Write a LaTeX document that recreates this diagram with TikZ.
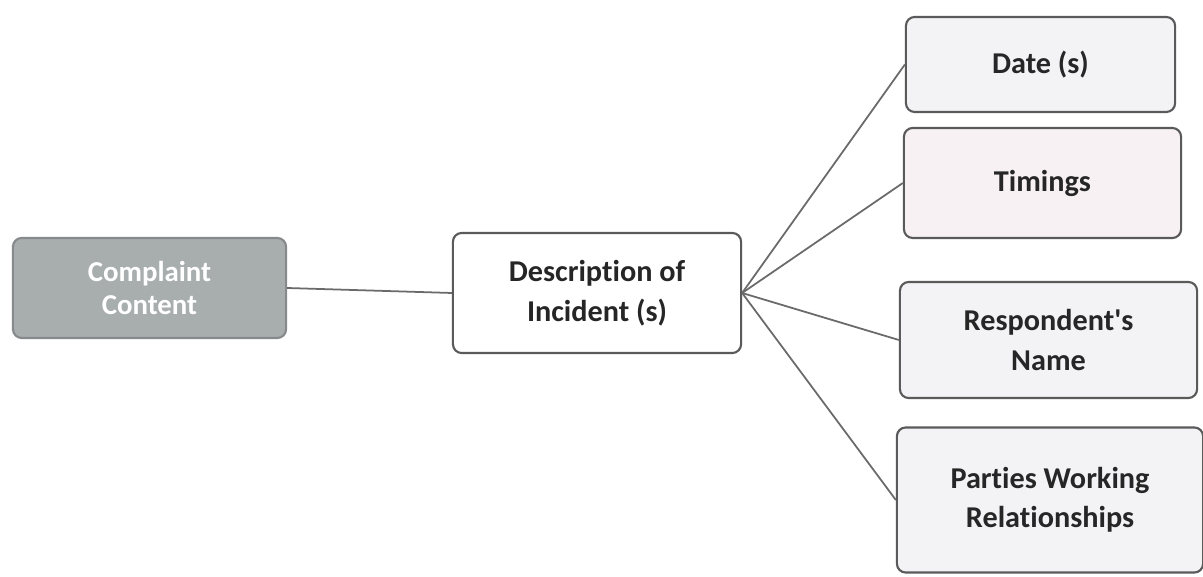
\documentclass[tikz,border=0pt]{standalone}
\usepackage{fontspec}
\setmainfont{Carlito}[Ligatures=NoCommon]
\usepackage{tikz}
\usetikzlibrary{calc}
\usetikzlibrary{backgrounds}
\definecolor{boxline}{HTML}{5A5A5A}
\definecolor{compfill}{HTML}{A8ADAD}
\definecolor{palebox}{HTML}{F3F3F5}
\definecolor{pinkbox}{HTML}{F8F1F4}
\definecolor{wireline}{HTML}{6A6A6A}

\tikzset{
  box/.style={draw=boxline, line width=0.6pt, rounded corners=2.5pt, align=center,
    font=\bfseries\fontsize{8.6}{11.2}\selectfont, text=black!85},
  wire/.style={draw=wireline, line width=0.5pt}
}

\begin{document}
\begin{tikzpicture}[x=0.01cm,y=-0.01cm]
  \useasboundingbox (0,0) rectangle (1203,577);
  \clip (0,0) rectangle (1203,577);
  \fill[white] (0,0) rectangle (1203,577);

  \node[box, fill=compfill, draw=compfill!80!black, text=white,
    font=\bfseries\fontsize{8.2}{9.6}\selectfont,
    minimum width=2.73cm, minimum height=1.0cm] (comp) at (149.5,288) {Complaint\\Content};
  \node[box, fill=white, minimum width=2.88cm, minimum height=1.2cm] (desc) at (597,293) {Description of\\Incident (s)};

  \node[box, fill=palebox, minimum width=2.69cm, minimum height=0.95cm] (date) at (1040.5,64.5) {Date (s)};
  \node[box, fill=pinkbox, minimum width=2.77cm, minimum height=1.1cm] (timing) at (1042.5,183) {Timings};
  \node[box, fill=palebox, minimum width=2.97cm, minimum height=1.16cm] (resp) at (1048.5,340) {Respondent\textquotesingle s\\Name};
  \node[box, fill=palebox, minimum width=3.06cm, minimum height=1.45cm] (parties) at (1050,500) {Parties Working\\Relationships};

  %% connectors
  \draw[wire] (comp.east) -- (desc.west);
  \foreach \n in {date, timing, resp, parties}
    \draw[wire] (desc.east) -- (\n.west);
\end{tikzpicture}
\end{document}
